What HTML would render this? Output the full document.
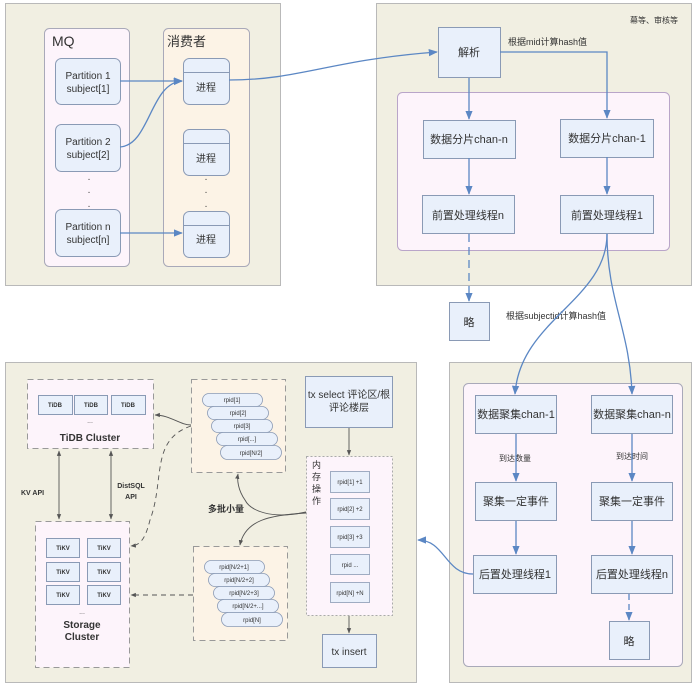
<!DOCTYPE html>
<html><head><meta charset="utf-8"><style>
html,body{margin:0;padding:0;background:#fff;}
svg text{font-family:"Liberation Sans","Noto Sans CJK SC",sans-serif;}
</style></head><body>
<svg width="696" height="687" viewBox="0 0 696 687" xmlns="http://www.w3.org/2000/svg">
<defs>
<marker id="ab" viewBox="0 0 10 10" refX="9" refY="5" markerWidth="7" markerHeight="7" orient="auto"><path d="M0,1 L10,5 L0,9 z" fill="#5b87c4"/></marker>
<marker id="ag" viewBox="0 0 10 10" refX="9" refY="5" markerWidth="6" markerHeight="6" orient="auto"><path d="M0,1 L10,5 L0,9 z" fill="#555"/></marker>
<marker id="ag2" viewBox="0 0 10 10" refX="1" refY="5" markerWidth="6" markerHeight="6" orient="auto"><path d="M10,1 L0,5 L10,9 z" fill="#555"/></marker>
</defs>
<rect width="696" height="687" fill="#fff"/>
<!-- panels -->
<rect x="5.5" y="3.5" width="275" height="282" fill="#f1efe2" stroke="#b9b9b9"/>
<rect x="376.5" y="3.5" width="315" height="282" fill="#f1efe2" stroke="#b9b9b9"/>
<rect x="5.5" y="362.5" width="411" height="320" fill="#f1efe2" stroke="#b9b9b9"/>
<rect x="449.5" y="362.5" width="242" height="320" fill="#f1efe2" stroke="#b9b9b9"/>

<!-- Panel A -->
<rect x="44.5" y="28.5" width="85" height="238" rx="5" fill="#fdf4fb" stroke="#a9a9b9"/>
<text x="52" y="46" font-size="14" fill="#333">MQ</text>
<rect x="163.5" y="28.5" width="86" height="238" rx="5" fill="#fcf3e6" stroke="#a9a9b9"/>
<text x="167" y="46" font-size="13" fill="#333">消费者</text>
<g fill="#e9f0fb" stroke="#8a9ab5">
<rect x="55.5" y="58.5" width="65" height="46" rx="6"/>
<rect x="55.5" y="124.5" width="65" height="47" rx="6"/>
<rect x="55.5" y="209.5" width="65" height="47" rx="6"/>
<rect x="183.5" y="58.5" width="46" height="46" rx="6"/>
<rect x="183.5" y="129.5" width="46" height="46" rx="6"/>
<rect x="183.5" y="211.5" width="46" height="46" rx="6"/>
</g>
<g stroke="#8a9ab5"><line x1="184" y1="72.5" x2="229" y2="72.5"/><line x1="184" y1="143.5" x2="229" y2="143.5"/><line x1="184" y1="225.5" x2="229" y2="225.5"/></g>
<g font-size="10" fill="#333" text-anchor="middle">
<text x="88" y="79">Partition 1</text><text x="88" y="92">subject[1]</text>
<text x="88" y="145">Partition 2</text><text x="88" y="158">subject[2]</text>
<text x="88" y="230">Partition n</text><text x="88" y="243">subject[n]</text>
<text x="206" y="91">进程</text><text x="206" y="162">进程</text><text x="206" y="243">进程</text>
</g>
<g font-size="10" fill="#444" text-anchor="middle"><text x="89" y="180">.</text><text x="89" y="193">.</text><text x="89" y="207">.</text>
<text x="206" y="180">.</text><text x="206" y="193">.</text><text x="206" y="207">.</text></g>
<g fill="none" stroke="#5b87c4" stroke-width="1.3">
<path d="M120,81 L182,81" marker-end="url(#ab)"/>
<path d="M120,147 C150,145 150,83 182,81" marker-end="url(#ab)"/>
<path d="M120,233 L182,233" marker-end="url(#ab)"/>
<path d="M229,80 C300,80 330,60 437,52" marker-end="url(#ab)"/>
</g>

<!-- Panel B -->
<text x="630" y="23" font-size="8" fill="#333">幕等、审核等</text>
<rect x="397.5" y="92.5" width="272" height="158" rx="5" fill="#fdf4fb" stroke="#b9a5c9"/>
<g fill="#e9f0fb" stroke="#8a9ab5">
<rect x="438.5" y="27.5" width="62" height="50"/>
<rect x="423.5" y="120.5" width="92" height="38"/>
<rect x="560.5" y="119.5" width="93" height="38"/>
<rect x="422.5" y="195.5" width="92" height="38"/>
<rect x="560.5" y="195.5" width="93" height="38"/>
<rect x="449.5" y="302.5" width="40" height="38"/>
</g>
<g font-size="11" fill="#333" text-anchor="middle">
<text x="469" y="56">解析</text>
<text x="469" y="143">数据分片chan-n</text>
<text x="607" y="142">数据分片chan-1</text>
<text x="468" y="219">前置处理线程n</text>
<text x="607" y="219">前置处理线程1</text>
<text x="469" y="326">略</text>
</g>
<text x="508" y="45" font-size="9" fill="#333">根据mid计算hash值</text>
<text x="506" y="319" font-size="9" fill="#333">根据subjectid计算hash值</text>
<g fill="none" stroke="#5b87c4" stroke-width="1.3">
<path d="M469,78 L469,119" marker-end="url(#ab)"/>
<path d="M500,52 L607,52 L607,118" marker-end="url(#ab)"/>
<path d="M469,158 L469,194" marker-end="url(#ab)"/>
<path d="M607,157 L607,194" marker-end="url(#ab)"/>
<path d="M469,234 L469,301" stroke-dasharray="8,5" marker-end="url(#ab)"/>
</g>

<!-- Panel D -->
<rect x="463.5" y="383.5" width="219" height="283" rx="5" fill="#fdf4fb" stroke="#a9a9b9"/>
<g fill="none" stroke="#5b87c4" stroke-width="1.3">
<path d="M607,234 C607,300 520,320 515,394" marker-end="url(#ab)"/>
<path d="M607,234 C607,300 630,330 632,394" marker-end="url(#ab)"/>
</g>
<g fill="#e9f0fb" stroke="#8a9ab5">
<rect x="475.5" y="395.5" width="81" height="38"/>
<rect x="591.5" y="395.5" width="81" height="38"/>
<rect x="475.5" y="482.5" width="81" height="38"/>
<rect x="591.5" y="482.5" width="81" height="38"/>
<rect x="473.5" y="555.5" width="83" height="38"/>
<rect x="591.5" y="555.5" width="81" height="38"/>
<rect x="609.5" y="621.5" width="40" height="38"/>
</g>
<g font-size="11" fill="#333" text-anchor="middle">
<text x="516" y="418">数据聚集chan-1</text>
<text x="632" y="418">数据聚集chan-n</text>
<text x="516" y="505">聚集一定事件</text>
<text x="632" y="505">聚集一定事件</text>
<text x="515" y="578">后置处理线程1</text>
<text x="632" y="578">后置处理线程n</text>
<text x="629" y="645">略</text>
</g>
<g font-size="8" fill="#333" text-anchor="middle"><text x="515" y="461">到达数量</text><text x="632" y="459">到达时间</text></g>
<g fill="none" stroke="#5b87c4" stroke-width="1.3">
<path d="M516,434 L516,481" marker-end="url(#ab)"/>
<path d="M632,434 L632,481" marker-end="url(#ab)"/>
<path d="M516,521 L516,554" marker-end="url(#ab)"/>
<path d="M632,521 L632,554" marker-end="url(#ab)"/>
<path d="M629,594 L629,620" stroke-dasharray="6,4" marker-end="url(#ab)"/>
<path d="M473,574 C445,574 445,540 418,540" marker-end="url(#ab)"/>
</g>

<!-- Panel C -->
<rect x="27.5" y="379.5" width="126" height="69" fill="#fdf4fb" stroke="#999" stroke-dasharray="6,4"/>
<g fill="#e9f0fb" stroke="#8a9ab5">
<rect x="38.5" y="395.5" width="34" height="19"/><rect x="74.5" y="395.5" width="33" height="19"/><rect x="111.5" y="395.5" width="34" height="19"/>
</g>
<g font-size="6" fill="#333" text-anchor="middle" font-weight="bold"><text x="55" y="407">TiDB</text><text x="91" y="407">TiDB</text><text x="128" y="407">TiDB</text></g>
<text x="90" y="423" font-size="7" fill="#555" text-anchor="middle">...</text>
<text x="90" y="441" font-size="10" font-weight="bold" fill="#333" text-anchor="middle">TiDB Cluster</text>
<rect x="35.5" y="521.5" width="94" height="146" fill="#fdf4fb" stroke="#999" stroke-dasharray="6,4"/>
<g fill="#e9f0fb" stroke="#8a9ab5">
<rect x="46.5" y="538.5" width="33" height="19"/><rect x="87.5" y="538.5" width="33" height="19"/>
<rect x="46.5" y="562.5" width="33" height="19"/><rect x="87.5" y="562.5" width="33" height="19"/>
<rect x="46.5" y="585.5" width="33" height="19"/><rect x="87.5" y="585.5" width="33" height="19"/>
</g>
<g font-size="6" fill="#333" text-anchor="middle" font-weight="bold">
<text x="63" y="550">TiKV</text><text x="104" y="550">TiKV</text><text x="63" y="574">TiKV</text><text x="104" y="574">TiKV</text><text x="63" y="597">TiKV</text><text x="104" y="597">TiKV</text></g>
<text x="82" y="614" font-size="7" fill="#555" text-anchor="middle">...</text>
<text x="82" y="628" font-size="10" font-weight="bold" fill="#333" text-anchor="middle">Storage</text>
<text x="82" y="640" font-size="10" font-weight="bold" fill="#333" text-anchor="middle">Cluster</text>
<g fill="none" stroke="#555" stroke-width="0.9">
<path d="M59,451 L59,519" marker-start="url(#ag2)" marker-end="url(#ag)"/>
<path d="M111,451 L111,519" marker-start="url(#ag2)" marker-end="url(#ag)"/>
</g>
<text x="21" y="495" font-size="7" font-weight="bold" fill="#333">KV API</text>
<text x="131" y="488" font-size="7" font-weight="bold" fill="#333" text-anchor="middle">DistSQL</text>
<text x="131" y="499" font-size="7" font-weight="bold" fill="#333" text-anchor="middle">API</text>

<rect x="191.5" y="379.5" width="94" height="93" fill="#fcf3e6" stroke="#999" stroke-dasharray="6,4"/>
<rect x="193.5" y="546.5" width="94" height="94" fill="#fcf3e6" stroke="#999" stroke-dasharray="6,4"/>
<g fill="#e9f0fb" stroke="#8a9ab5" stroke-width="0.8">
<rect x="202.5" y="393.5" width="60" height="13" rx="6.5"/>
<rect x="207.5" y="406.5" width="61" height="13" rx="6.5"/>
<rect x="211.5" y="419.5" width="61" height="13" rx="6.5"/>
<rect x="216.5" y="432.5" width="61" height="13" rx="6.5"/>
<rect x="220.5" y="445.5" width="61" height="14" rx="7"/>
<rect x="204.5" y="560.5" width="60" height="13" rx="6.5"/>
<rect x="208.5" y="573.5" width="61" height="13" rx="6.5"/>
<rect x="213.5" y="586.5" width="61" height="13" rx="6.5"/>
<rect x="217.5" y="599.5" width="61" height="13" rx="6.5"/>
<rect x="221.5" y="612.5" width="61" height="14" rx="7"/>
</g>
<g font-size="6" fill="#333" text-anchor="middle">
<text x="232" y="402">rpid[1]</text><text x="238" y="415">rpid[2]</text><text x="242" y="428">rpid[3]</text><text x="247" y="441">rpid[...]</text><text x="251" y="455">rpid[N/2]</text>
<text x="234" y="569">rpid[N/2+1]</text><text x="239" y="582">rpid[N/2+2]</text><text x="244" y="595">rpid[N/2+3]</text><text x="248" y="608">rpid[N/2+...]</text><text x="252" y="622">rpid[N]</text>
</g>
<rect x="305.5" y="376.5" width="87" height="51" fill="#e9f0fb" stroke="#8a9ab5"/>
<text x="349" y="398" font-size="10" fill="#333" text-anchor="middle">tx select 评论区/根</text>
<text x="349" y="411" font-size="10" fill="#333" text-anchor="middle">评论楼层</text>
<rect x="306.5" y="456.5" width="86" height="159" fill="#fdf4fb" stroke="#aaa" stroke-dasharray="2,2"/>
<g font-size="9" fill="#333"><text x="312" y="468">内</text><text x="312" y="480">存</text><text x="312" y="492">操</text><text x="312" y="504">作</text></g>
<g fill="#e9f0fb" stroke="#8a9ab5" stroke-width="0.8">
<rect x="330.5" y="471.5" width="39" height="21"/><rect x="330.5" y="498.5" width="39" height="21"/><rect x="330.5" y="526.5" width="39" height="21"/><rect x="330.5" y="554.5" width="39" height="20"/><rect x="330.5" y="582.5" width="39" height="20"/>
</g>
<g font-size="6" fill="#333" text-anchor="middle">
<text x="350" y="484">rpid[1] +1</text><text x="350" y="511">rpid[2] +2</text><text x="350" y="539">rpid[3] +3</text><text x="350" y="567">rpid ...</text><text x="350" y="595">rpid[N] +N</text>
</g>
<rect x="322.5" y="634.5" width="54" height="33" fill="#e9f0fb" stroke="#8a9ab5"/>
<text x="349" y="655" font-size="10" fill="#333" text-anchor="middle">tx insert</text>
<text x="208" y="512" font-size="9" font-weight="bold" fill="#333">多批小量</text>
<g fill="none" stroke="#555" stroke-width="0.9">
<path d="M349,428 L349,455" marker-end="url(#ag)"/>
<path d="M349,616 L349,633" marker-end="url(#ag)"/>
<path d="M306,512 C270,520 250,510 245,500 C238,490 237,480 238,474" marker-end="url(#ag)"/>
<path d="M306,513 C270,515 245,520 240,545" marker-end="url(#ag)"/>
<path d="M191,425 C180,425 170,415 155,415" marker-end="url(#ag)"/>
<path d="M191,426 C150,440 165,480 150,520 C145,540 140,545 131,546" stroke-dasharray="5,4" marker-end="url(#ag)"/>
<path d="M193,595 L131,595" stroke-dasharray="5,4" marker-end="url(#ag)"/>
</g>
</svg>
</body></html>
